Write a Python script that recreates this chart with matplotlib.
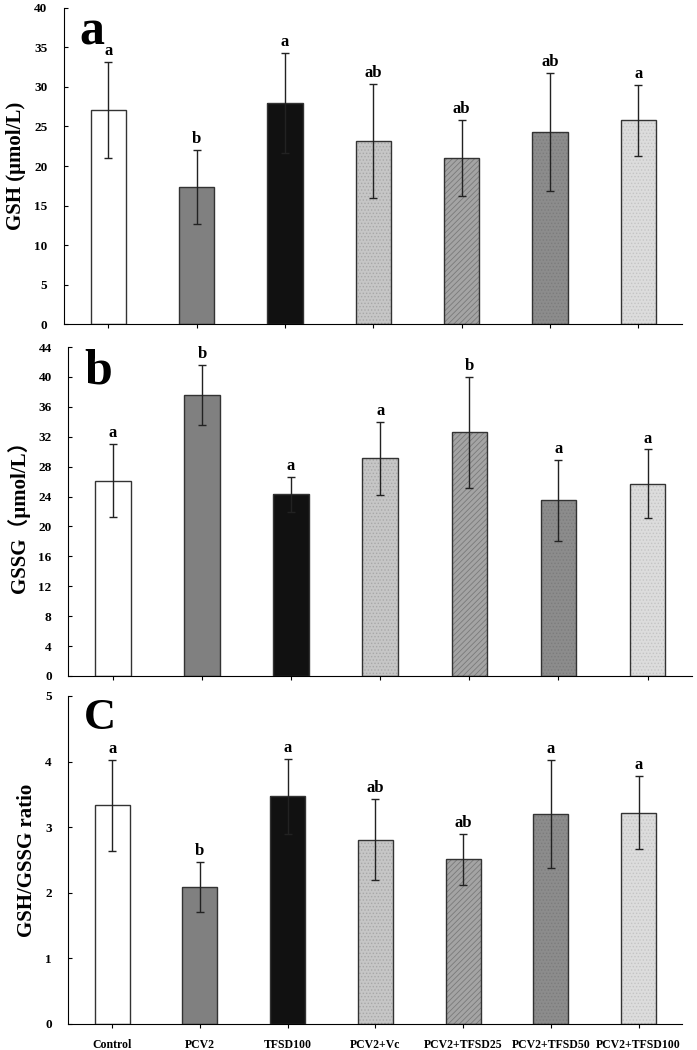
import matplotlib
matplotlib.use("Agg")
import matplotlib.pyplot as plt
import numpy as np

plt.rcParams['font.family'] = ['Liberation Serif', 'Noto Sans CJK SC', 'DejaVu Sans']
plt.rcParams['font.weight'] = 'bold'
plt.rcParams['hatch.linewidth'] = 0.6

groups = ['Control', 'PCV2', 'TFSD100', 'PCV2+Vc', 'PCV2+TFSD25', 'PCV2+TFSD50', 'PCV2+TFSD100']

gsh = [27.1, 17.3, 28.0, 23.2, 21.0, 24.3, 25.8]
gsh_err = [6.1, 4.7, 6.3, 7.2, 4.8, 7.5, 4.5]
gsh_sig = ['a', 'b', 'a', 'ab', 'ab', 'ab', 'a']

gssg = [26.1, 37.6, 24.3, 29.1, 32.6, 23.5, 25.7]
gssg_err = [4.9, 4.0, 2.3, 4.9, 7.4, 5.4, 4.6]
gssg_sig = ['a', 'b', 'a', 'a', 'b', 'a', 'a']

ratio = [3.33, 2.09, 3.47, 2.81, 2.51, 3.20, 3.22]
ratio_err = [0.69, 0.38, 0.57, 0.62, 0.39, 0.83, 0.56]
ratio_sig = ['a', 'b', 'a', 'ab', 'ab', 'a', 'a']

# fill colour, hatch, hatch colour for each group
fills = ['white', '#808080', '#111111', '#c6c6c6', '#a4a4a4', '#8c8c8c', '#dcdcdc']
hatches = [None, None, None, '.....', '//////', '.....', '.....']
hcolors = ['white', '#808080', '#111111', '#a8a8a8', '#7a7a7a', '#7c7c7c', '#c4c4c4']


def draw_panel(ax, vals, errs, sig, ymax, ystep, ylabel, letter, letter_size, show_x):
    x = np.arange(len(groups))
    for i in range(len(groups)):
        ax.bar(x[i], vals[i], 0.4, color=fills[i], hatch=hatches[i],
               edgecolor=hcolors[i], linewidth=0, zorder=2)
    ax.bar(x, vals, 0.4, fill=False, edgecolor='#333333', linewidth=1.0, zorder=3)
    ax.errorbar(x, vals, yerr=errs, fmt='none', ecolor='#222222', elinewidth=1,
                capsize=3, capthick=1, zorder=4)
    for i in range(len(groups)):
        ax.annotate(sig[i], (x[i], vals[i] + errs[i]), xytext=(0, 2),
                    textcoords='offset points', ha='center', va='bottom',
                    fontsize=12, fontweight='bold')
    ax.set_xlim(-0.5, 6.5)
    ax.set_ylim(0, ymax)
    ax.set_yticks(np.arange(0, ymax + 0.01, ystep))
    ax.spines['top'].set_visible(False)
    ax.spines['right'].set_visible(False)
    ax.tick_params(axis='y', direction='in', length=3, labelsize=9.5, pad=12)
    ax.tick_params(axis='x', direction='out', length=3)
    ax.set_xticks(x)
    if show_x:
        ax.set_xticklabels(groups, fontsize=8.5, fontweight='bold')
        ax.tick_params(axis='x', pad=8)
    else:
        ax.set_xticklabels([])
    ax.set_ylabel(ylabel, fontsize=15, fontweight='bold', labelpad=6)
    ax.text(0.025, 0.995, letter, transform=ax.transAxes, fontsize=letter_size,
            fontweight='bold', va='top', ha='left')


fig = plt.figure(figsize=(6.97, 10.5), dpi=100)
ax1 = fig.add_axes([0.092, 0.6914, 0.887, 0.301])
ax2 = fig.add_axes([0.098, 0.3562, 0.895, 0.3133])
ax3 = fig.add_axes([0.098, 0.0248, 0.881, 0.3124])

draw_panel(ax1, gsh, gsh_err, gsh_sig, 40, 5, 'GSH (μmol/L)', 'a', 36, False)
draw_panel(ax2, gssg, gssg_err, gssg_sig, 44, 4, 'GSSG（μmol/L）', 'b', 36, False)
draw_panel(ax3, ratio, ratio_err, ratio_sig, 5, 1, 'GSH/GSSG ratio', 'C', 32, True)

fig.savefig('out.png', dpi=100)
